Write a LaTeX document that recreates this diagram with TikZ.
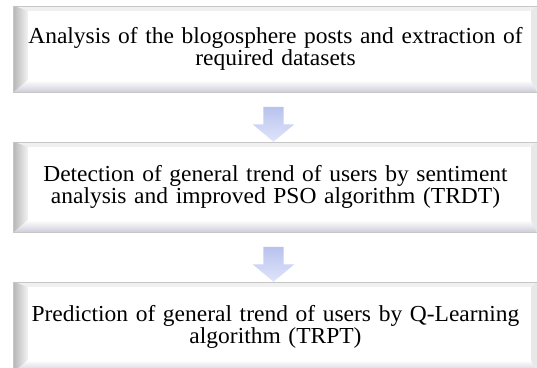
\documentclass[tikz,border=0pt]{standalone}
\usepackage{fontspec}
\newfontfamily\boxfont[FakeStretch=1.025]{Liberation Serif}
\usetikzlibrary{calc, positioning, shapes.arrows, backgrounds}

\definecolor{arrowtop}{RGB}{184,194,238}
\definecolor{arrowbot}{RGB}{224,229,250}
\definecolor{bevelgray}{RGB}{205,205,218}

\begin{document}
\begin{tikzpicture}[x=1bp, y=-1bp,
    box/.style={minimum width=523bp, minimum height=88bp, inner sep=0pt,
        text width=520bp, align=center,
        font=\boxfont\fontsize{23}{21.5}\selectfont},
    downarrow/.style={single arrow, shape border rotate=270, draw=none,
        inner xsep=10bp, inner ysep=10bp, minimum height=35bp, minimum width=41bp,
        single arrow head extend=10.5bp, single arrow tip angle=100,
        top color=arrowtop, bottom color=arrowbot}]

        \useasboundingbox (0,0) rectangle (537,367);

        % the three steps
        \node[box, minimum height=86bp] (b1) at (275.5,49) {Analysis of the blogosphere posts and extraction of\\ required datasets};
        \node[box, minimum height=90bp] (b2) at (275.5,187) {Detection of general trend of users by sentiment\\ analysis and improved PSO algorithm (TRDT)};
        \node[box, minimum height=90bp] (b3) at (275.5,327) {Prediction of general trend of users by Q-Learning\\ algorithm (TRPT)};

        % block arrows between the steps
        \node[downarrow] (a1) at ($(b1.south)!0.5!(b2.north)+(-2,3)$) {};
        \node[downarrow] (a2) at ($(b2.south)!0.5!(b3.north)+(-2,3)$) {};

        % bevelled frames behind the texts
        \begin{scope}[on background layer]
        \foreach \b in {b1,b2,b3} {
            \fill[gray!12] (\b.north west) rectangle (\b.south east);
            \shade[left color=gray!55, right color=gray!10]
                (\b.north west) -- ($(\b.north west)+(14,5)$) -- ($(\b.south west)+(14,-12)$) -- (\b.south west) -- cycle;
            \shade[top color=white, bottom color=bevelgray]
                (\b.south west) -- ($(\b.south west)+(14,-12)$) -- ($(\b.south east)+(-6,-12)$) -- (\b.south east) -- cycle;
            \fill[gray!18]
                (\b.north east) -- ($(\b.north east)+(-6,5)$) -- ($(\b.south east)+(-6,-12)$) -- (\b.south east) -- cycle;
            \fill[white] ($(\b.north west)+(14,5)$) rectangle ($(\b.south east)+(-6,-12)$);
            \draw[gray!45, line width=0.6pt] (\b.north west) rectangle (\b.south east);
        }
        \end{scope}

\end{tikzpicture}
\end{document}
